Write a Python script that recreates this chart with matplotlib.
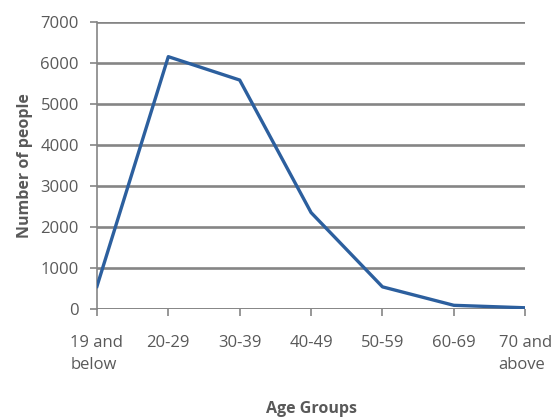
import matplotlib
matplotlib.use("Agg")
import matplotlib.pyplot as plt

age_groups = ["19 and\nbelow", "20-29", "30-39", "40-49", "50-59", "60-69", "70 and\nabove"]
people = [550, 6150, 5580, 2350, 540, 90, 30]
y_ticks = [0, 1000, 2000, 3000, 4000, 5000, 6000, 7000]

plt.rcParams["font.family"] = ["Open Sans", "DejaVu Sans"]
text_color = "#595959"
grid_color = "#858585"

fig = plt.figure(figsize=(5.57, 4.19), dpi=100)
ax = fig.add_axes([0.174, 0.2625, 0.769, 0.6855])

x = list(range(len(age_groups)))
ax.plot(x, people, color="#2C5F9E", linewidth=2.4, solid_joinstyle="round", zorder=3)

ax.set_xlim(0, len(age_groups) - 1)
ax.set_ylim(0, 7000)
ax.set_yticks(y_ticks)
ax.set_yticklabels([str(v) for v in y_ticks])
ax.set_xticks(x)
ax.set_xticklabels(age_groups, multialignment="left", linespacing=1.45)

ax.yaxis.grid(True, color=grid_color, linewidth=1.9)
ax.set_axisbelow(True)
for side in ("top", "right", "bottom"):
    ax.spines[side].set_visible(False)
ax.spines["left"].set_color(grid_color)
ax.spines["left"].set_linewidth(1.2)
ax.axhline(0, color=grid_color, linewidth=1.9, zorder=2)

ax.tick_params(axis="y", colors=grid_color, labelcolor=text_color, labelsize=12,
               length=5, width=1.2, pad=8)
ax.tick_params(axis="x", colors=grid_color, labelcolor=text_color, labelsize=12,
               length=5, width=1.2, pad=14)

ax.set_xlabel("Age Groups", fontsize=11.5, fontweight="bold", color=text_color, labelpad=20)
ax.set_ylabel("Number of people", fontsize=11.5, fontweight="bold", color=text_color, labelpad=5)

fig.savefig("out.png", dpi=100, facecolor="white")
